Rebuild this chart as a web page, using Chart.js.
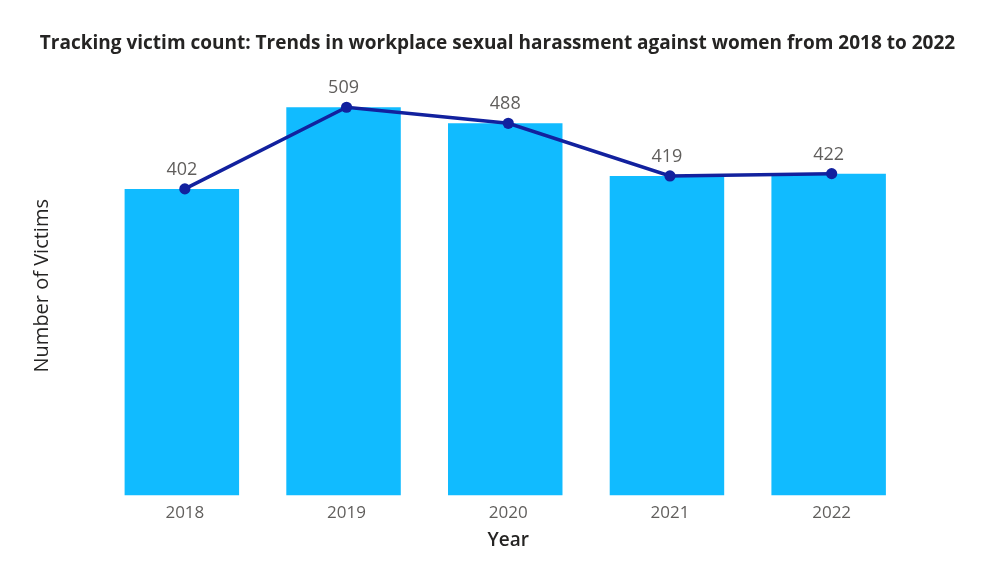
<!DOCTYPE html>
<html>
<head>
<meta charset="utf-8">
<script src="https://cdn.jsdelivr.net/npm/chart.js@4.4.1/dist/chart.umd.min.js"></script>
<style>
  html, body { margin: 0; padding: 0; background: #ffffff; }
  #wrap { width: 995px; height: 586px; position: relative; }
</style>
</head>
<body>
<div id="wrap"><canvas id="c" width="995" height="586"></canvas></div>
<script>
const years = ['2018', '2019', '2020', '2021', '2022'];
const barValues = [402, 509, 488, 419, 422];
const lineValues = [402, 509, 488, 419, 422];
const titleText = 'Tracking victim count: Trends in workplace sexual harassment against women from 2018 to 2022';
const xTitle = 'Year';
const yTitle = 'Number of Victims';

const BAR_SHIFT = -3;

const barShift = {
  id: 'barShift',
  beforeDatasetDraw(chart, args) {
    if (args.index === 0) { chart.ctx.save(); chart.ctx.translate(BAR_SHIFT, 0); }
  },
  afterDatasetDraw(chart, args) {
    if (args.index === 0) { chart.ctx.restore(); }
  }
};

const valueLabels = {
  id: 'valueLabels',
  afterDatasetsDraw(chart) {
    const ctx = chart.ctx;
    const meta = chart.getDatasetMeta(1);
    const data = chart.data.datasets[1].data;
    ctx.save();
    ctx.font = '18px "Open Sans"';
    ctx.fillStyle = '#605E5C';
    ctx.textAlign = 'center';
    ctx.textBaseline = 'alphabetic';
    meta.data.forEach((pt, i) => {
      ctx.fillText(String(data[i]), pt.x + BAR_SHIFT, pt.y - 14);
    });
    ctx.restore();
  }
};

new Chart(document.getElementById('c'), {
  data: {
    labels: years,
    datasets: [
      {
        type: 'bar',
        data: barValues,
        backgroundColor: '#11BBFF',
        borderWidth: 0,
        categoryPercentage: 1.0,
        barPercentage: 0.708,
        order: 2
      },
      {
        type: 'line',
        data: lineValues,
        borderColor: '#12219E',
        backgroundColor: '#12219E',
        borderWidth: 3.5,
        pointRadius: 5.6,
        pointHoverRadius: 5.6,
        pointBackgroundColor: '#12219E',
        pointBorderWidth: 0,
        tension: 0,
        order: 1
      }
    ]
  },
  options: {
    responsive: false,
    animation: false,
    devicePixelRatio: 1,
    layout: { padding: { left: 0, right: 0, top: 0, bottom: 0 } },
    plugins: {
      legend: { display: false },
      tooltip: { enabled: false },
      title: {
        display: true,
        text: titleText,
        color: '#252423',
        font: { family: '"Open Sans"', size: 19, weight: 'bold' },
        padding: { top: 32, bottom: 21.2 }
      }
    },
    scales: {
      x: {
        grid: { display: false, drawTicks: false },
        border: { display: false },
        ticks: {
          color: '#605E5C',
          font: { family: '"Open Sans"', size: 17 },
          padding: 7
        },
        title: {
          display: true,
          text: xTitle,
          color: '#252423',
          font: { family: '"Open Sans"', size: 19, weight: '600' },
          padding: { top: 0, bottom: 34 }
        },
        afterFit(scale) { scale.height = 90.5; }
      },
      y: {
        min: 0,
        max: 550,
        grid: { display: false, drawTicks: false },
        border: { display: false },
        ticks: { display: false },
        title: {
          display: true,
          text: yTitle,
          color: '#252423',
          font: { family: '"Open Sans"', size: 20 },
          padding: { top: 30, bottom: 0 }
        },
        afterFit(scale) { scale.width = 104; }
      },
      yRight: {
        position: 'right',
        display: true,
        grid: { display: false, drawTicks: false },
        border: { display: false },
        ticks: { display: false },
        afterFit(scale) { scale.width = 82.5; }
      }
    }
  },
  plugins: [barShift, valueLabels]
});
</script>
</body>
</html>
